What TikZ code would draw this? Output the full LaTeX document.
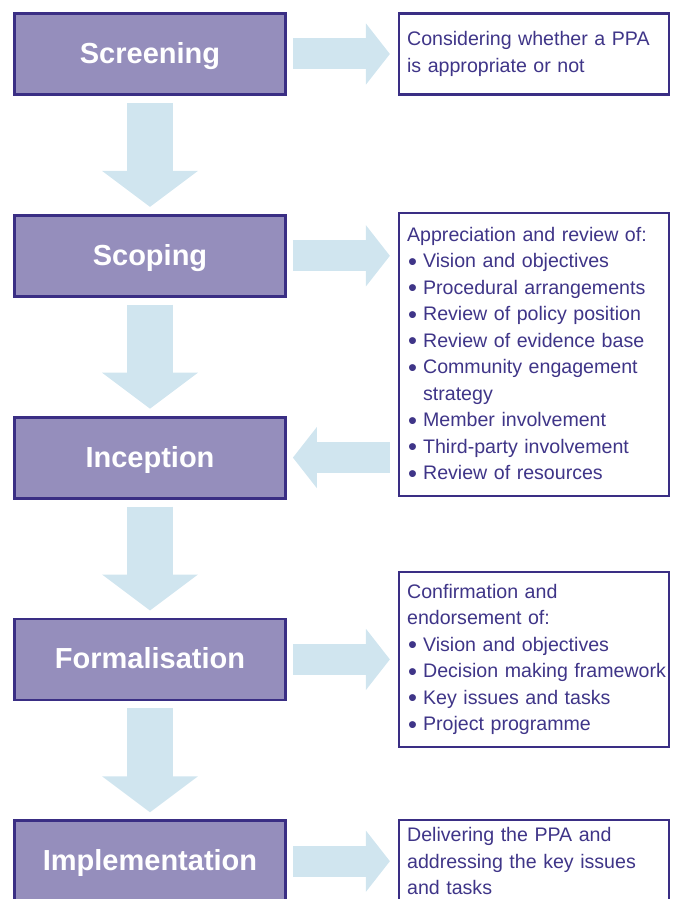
\documentclass[tikz,border=0pt]{standalone}
\usepackage{fontspec}
\setmainfont{Liberation Sans}
\usetikzlibrary{arrows.meta,positioning}

\definecolor{stagefill}{HTML}{958EBC}
\definecolor{stageline}{HTML}{3A2E84}
\definecolor{notetext}{HTML}{3F3588}
\definecolor{flowblue}{HTML}{D0E5EF}
\newcommand\itm[1]{\mbox{\makebox[16pt][l]{\hspace{1pt}\raisebox{-2.4pt}{\scalebox{1.3}{\textbullet}}}#1}}

\begin{document}
\begin{tikzpicture}[
  x=1pt,y=-1pt,
  node distance=118pt and 111pt,
  stage/.style={draw=stageline,line width=2.8pt,fill=stagefill,
    minimum width=271pt,minimum height=81pt,inner sep=0pt,text=white,
    text height=22pt,text depth=3pt,
    font=\fontsize{29pt}{34pt}\selectfont\bfseries},
  note/.style={draw=stageline,line width=2.4pt,fill=white,
    inner xsep=8pt,inner ysep=3pt,text width=254pt,align=left,
    text=notetext,font=\fontsize{19.6pt}{26.5pt}\selectfont},
  down/.style={draw=flowblue,line width=46pt,
    -{Triangle[length=36pt,width=94pt]},shorten <=7pt,shorten >=7pt},
  side/.style={draw=flowblue,line width=31pt,
    -{Triangle[length=24pt,width=60pt]},shorten <=6pt,shorten >=8pt}
]
  \clip (0,0) rectangle (681,899);

  % stages
  \node[stage] (screen) at (150,54) {Screening};
  \node[stage,below=of screen] (scope) {Scoping};
  \node[stage,below=of scope] (incep) {Inception};
  \node[stage,below=of incep] (formal) {Formalisation};
  \node[stage,below=of formal] (impl) {Implementation};

  % notes
  \node[note,right=of screen,minimum height=81pt] (screennote)
    {Considering whether a PPA\\is appropriate or not};
  \node[note,right=of scope.north east,anchor=north west,minimum height=283pt,yshift=2pt] (scopenote)
    {Appreciation and review of:\\
     \itm{Vision and objectives}\\
     \itm{Procedural arrangements}\\
     \itm{Review of policy position}\\
     \itm{Review of evidence base}\\
     \itm{Community engagement}\\
     \hspace*{16pt}strategy\\
     \itm{Member involvement}\\
     \itm{Third-party involvement}\\
     \itm{Review of resources}};
  \node[note,right=of formal,minimum height=175pt] (formalnote)
    {Confirmation and\\endorsement of:\\
     \itm{Vision and objectives}\\
     \itm{Decision making framework}\\
     \itm{Key issues and tasks}\\
     \itm{Project programme}};
  \node[note,right=of impl,minimum height=82pt] (implnote)
    {Delivering the PPA and\\addressing the key issues\\and tasks};

  % flow
  \draw[down] (screen) -- (scope);
  \draw[down] (scope) -- (incep);
  \draw[down] (incep) -- (formal);
  \draw[down] (formal) -- (impl);

  \draw[side] (screen.east) -- (screen.east -| screennote.west);
  \draw[side] (scope.east) -- (scope.east -| scopenote.west);
  \draw[side,shorten <=8pt,shorten >=6pt] (incep.east -| scopenote.west) -- (incep.east);
  \draw[side] (formal.east) -- (formal.east -| formalnote.west);
  \draw[side] (impl.east) -- (impl.east -| implnote.west);
\end{tikzpicture}
\end{document}
